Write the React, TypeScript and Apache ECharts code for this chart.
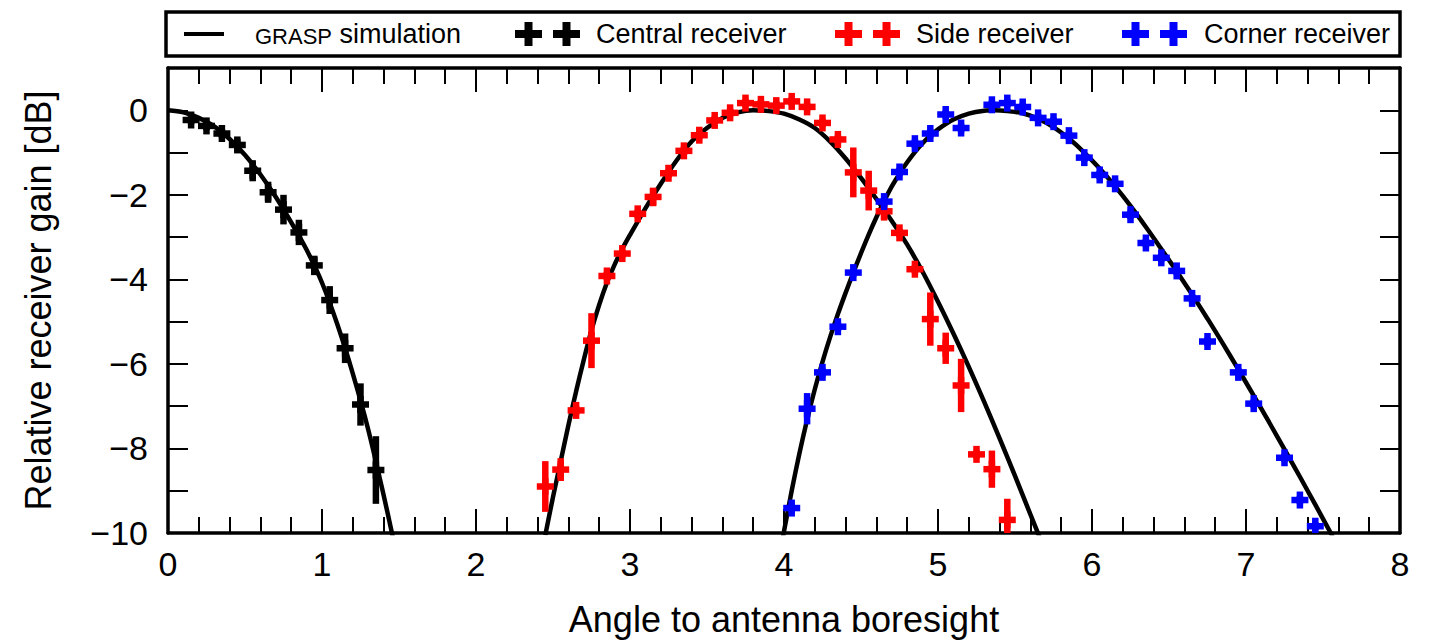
import React, { useEffect, useRef } from "react";
import * as echarts from "echarts";

// ---- GRASP simulation curves (angle, relative gain dB) ----
const graspCentral: number[][] = [
  [0, 0], [0.1, -0.05], [0.2, -0.18], [0.3, -0.38], [0.4, -0.68], [0.5, -1.06],
  [0.6, -1.52], [0.7, -2.05], [0.8, -2.65], [0.9, -3.3], [1.0, -4.08], [1.1, -5.07],
  [1.2, -6.23], [1.3, -7.55], [1.4, -9.1], [1.46, -10.1],
];
const graspSide: number[][] = [
  [2.45, -10.05], [2.5, -9.15], [2.55, -8.3], [2.6, -7.45], [2.65, -6.65], [2.7, -5.9],
  [2.75, -5.2], [2.8, -4.6], [2.85, -4.08], [2.9, -3.65], [2.95, -3.28], [3.0, -2.95],
  [3.1, -2.32], [3.2, -1.74], [3.3, -1.2], [3.4, -0.74], [3.5, -0.42], [3.6, -0.18],
  [3.7, -0.05], [3.8, 0], [3.9, -0.02], [4.0, -0.08], [4.1, -0.22], [4.2, -0.42],
  [4.3, -0.74], [4.4, -1.14], [4.5, -1.6], [4.6, -2.1], [4.7, -2.62], [4.8, -3.18],
  [4.9, -3.82], [5.0, -4.53], [5.1, -5.28], [5.2, -6.07], [5.3, -6.9], [5.4, -7.76],
  [5.5, -8.65], [5.6, -9.56], [5.66, -10.1],
];
const graspCorner: number[][] = [
  [3.99, -10.15], [4.0, -9.96], [4.05, -9.0], [4.1, -8.12], [4.15, -7.32], [4.2, -6.6],
  [4.25, -5.95], [4.3, -5.36], [4.35, -4.82], [4.4, -4.32], [4.45, -3.84], [4.5, -3.38],
  [4.55, -2.94], [4.6, -2.53], [4.65, -2.15], [4.7, -1.8], [4.75, -1.5], [4.8, -1.23],
  [4.85, -0.99], [4.9, -0.78], [4.95, -0.6], [5.0, -0.45], [5.1, -0.22], [5.2, -0.08],
  [5.3, -0.01], [5.37, 0], [5.45, -0.02], [5.55, -0.07], [5.65, -0.2], [5.75, -0.4],
  [5.85, -0.67], [5.95, -1.0], [6.05, -1.38], [6.15, -1.8], [6.25, -2.26], [6.35, -2.76],
  [6.45, -3.28], [6.55, -3.81], [6.65, -4.36], [6.75, -4.93], [6.85, -5.52], [6.95, -6.13],
  [7.05, -6.75], [7.15, -7.38], [7.25, -8.02], [7.35, -8.67], [7.45, -9.33], [7.55, -10.0],
  [7.57, -10.15],
];

// ---- Measured receivers: angle, gain, error ----
const centralX = [0.15, 0.25, 0.35, 0.45, 0.55, 0.65, 0.75, 0.85, 0.95, 1.05, 1.15, 1.25, 1.35];
const centralY = [-0.23, -0.37, -0.55, -0.82, -1.43, -1.94, -2.35, -2.89, -3.67, -4.49, -5.63, -6.96, -8.51];
const centralErr = [0.1, 0.1, 0.1, 0.15, 0.25, 0.25, 0.35, 0.3, 0.23, 0.33, 0.35, 0.5, 0.8];

const sideX = [2.45, 2.55, 2.65, 2.75, 2.85, 2.95, 3.05, 3.15, 3.25, 3.35, 3.45, 3.55, 3.65, 3.75, 3.85, 3.95,
  4.05, 4.15, 4.25, 4.35, 4.45, 4.55, 4.65, 4.75, 4.85, 4.95, 5.05, 5.15, 5.25, 5.35, 5.45];
const sideY = [-8.9, -8.5, -7.1, -5.45, -3.92, -3.39, -2.45, -2.05, -1.49, -0.96, -0.59, -0.24, -0.06, 0.17, 0.14, 0.11,
  0.21, 0.08, -0.3, -0.69, -1.47, -1.9, -2.39, -2.9, -3.76, -4.94, -5.63, -6.51, -8.14, -8.49, -9.69];
const sideErr = [0.6, 0.27, 0.1, 0.65, 0.1, 0.1, 0.1, 0.22, 0.1, 0.1, 0.1, 0.1, 0.1, 0.1, 0.1, 0.1,
  0.1, 0.1, 0.1, 0.1, 0.59, 0.47, 0.22, 0.1, 0.1, 0.63, 0.37, 0.63, 0.1, 0.44, 0.5];

const cornerX = [4.05, 4.15, 4.25, 4.35, 4.45, 4.65, 4.75, 4.85, 4.95, 5.05, 5.15, 5.35, 5.45, 5.55, 5.65, 5.75,
  5.85, 5.95, 6.05, 6.15, 6.25, 6.35, 6.45, 6.55, 6.65, 6.75, 6.95, 7.05, 7.25, 7.35, 7.45];
const cornerY = [-9.41, -7.06, -6.2, -5.12, -3.84, -2.16, -1.46, -0.79, -0.55, -0.1, -0.42, 0.13, 0.17, 0.08, -0.18, -0.27,
  -0.6, -1.12, -1.53, -1.74, -2.47, -3.14, -3.49, -3.8, -4.45, -5.47, -6.2, -6.94, -8.22, -9.22, -9.84];
const cornerErr = [0.12, 0.37, 0.1, 0.1, 0.1, 0.1, 0.1, 0.1, 0.1, 0.1, 0.1, 0.1, 0.1, 0.1, 0.1, 0.1,
  0.1, 0.1, 0.1, 0.1, 0.1, 0.1, 0.1, 0.1, 0.1, 0.1, 0.1, 0.1, 0.1, 0.1, 0.1];

const legendNames = ["GRASP simulation", "Central receiver", "Side receiver", "Corner receiver"];
const seriesColors = ["#000000", "#000000", "#ff0000", "#0000ff"];
const xAxisTitle = "Angle to antenna boresight";
const yAxisTitle = "Relative receiver gain [dB]";

const FONT = "'Liberation Sans', Arial, Helvetica, sans-serif";

function zip(xs: number[], ys: number[], es: number[]) {
  return xs.map((x, i) => [x, ys[i], es[i]]);
}

function renderErrCross(params: any, api: any) {
  const x = api.value(0);
  const y = api.value(1);
  const e = api.value(2);
  const c = api.coord([x, y]);
  const top = api.coord([x, y + e])[1];
  const bot = api.coord([x, y - e])[1];
  const color = api.visual("color");
  const arm = 8.5;
  const th = 3.25;
  return {
    type: "group",
    children: [
      { type: "rect", shape: { x: c[0] - th, y: top, width: 2 * th, height: bot - top }, style: { fill: color } },
      { type: "rect", shape: { x: c[0] - arm, y: c[1] - th, width: 2 * arm, height: 2 * th }, style: { fill: color } },
      { type: "rect", shape: { x: c[0] - th, y: c[1] - arm, width: 2 * th, height: 2 * arm }, style: { fill: color } },
    ],
  };
}

function plusPoints(cx: number, cy: number, w: number, h: number, t: number): number[][] {
  const hw = w / 2, hh = h / 2, ht = t / 2;
  return [
    [cx - hw, cy - ht], [cx - ht, cy - ht], [cx - ht, cy - hh], [cx + ht, cy - hh],
    [cx + ht, cy - ht], [cx + hw, cy - ht], [cx + hw, cy + ht], [cx + ht, cy + ht],
    [cx + ht, cy + hh], [cx - ht, cy + hh], [cx - ht, cy + ht], [cx - hw, cy + ht],
  ];
}

export default function App() {
  const ref = useRef<HTMLDivElement>(null);
  useEffect(() => {
    if (!ref.current) return;
    const chart = echarts.init(ref.current, null, { renderer: "svg" });

    const axisLine = { show: true, onZero: false, lineStyle: { color: "#000", width: 3.5 } };
    const xTick = { show: true, inside: true, length: 24, lineStyle: { color: "#000", width: 2 } };
    const xMinor = { show: true, splitNumber: 5, length: 16, lineStyle: { color: "#000", width: 2 } };
    const yTick = { show: true, inside: true, length: 20, lineStyle: { color: "#000", width: 2 } };

    const legendY = 34;
    const crossW = 27, crossH = 24, crossT = 8;
    const crossCenters = [[528.5, 566.5], [848.5, 886.5], [1135.5, 1173.5]];
    const textX = [255, 596, 916, 1204];

    const graphics: any[] = [
      { type: "rect", shape: { x: 166, y: 12, width: 1234, height: 44 }, style: { fill: "#fff", stroke: "#000", lineWidth: 3.5 }, z: 10 },
      { type: "line", shape: { x1: 184, y1: legendY, x2: 224, y2: legendY }, style: { stroke: seriesColors[0], lineWidth: 4 }, z: 11 },
      {
        type: "text", x: textX[0], y: legendY, z: 11,
        style: {
          text: "{a|GRASP}{b| simulation}",
          fill: "#000",
          verticalAlign: "middle",
          rich: {
            a: { fontSize: 22, fontFamily: FONT, fill: "#000", verticalAlign: "bottom", lineHeight: 27 },
            b: { fontSize: 27, fontFamily: FONT, fill: "#000", verticalAlign: "bottom", lineHeight: 27 },
          },
        },
      },
    ];
    for (let k = 0; k < 3; k++) {
      for (const cx of crossCenters[k]) {
        graphics.push({ type: "polygon", z: 11, shape: { points: plusPoints(cx, legendY, crossW, crossH, crossT) }, style: { fill: seriesColors[k + 1] } });
      }
      graphics.push({
        type: "text", x: textX[k + 1], y: legendY, z: 11,
        style: { text: legendNames[k + 1], fill: "#000", font: `27px ${FONT}`, verticalAlign: "middle" },
      });
    }

    const lineStyle = { color: "#000", width: 4.5 };
    const option: any = {
      animation: false,
      backgroundColor: "#fff",
      grid: { left: 168, right: 34, top: 68, bottom: 107, containLabel: false },
      xAxis: [
        {
          type: "value", min: 0, max: 8, interval: 1, position: "bottom",
          axisLine, axisTick: xTick, minorTick: xMinor,
          splitLine: { show: false }, minorSplitLine: { show: false },
          axisLabel: { fontSize: 34, color: "#000", margin: 14, fontFamily: FONT },
          name: xAxisTitle, nameLocation: "middle", nameGap: 68,
          nameTextStyle: { fontSize: 36, color: "#000", fontFamily: FONT },
        },
        {
          type: "value", min: 0, max: 8, interval: 1, position: "top",
          axisLine, axisTick: xTick, minorTick: xMinor,
          splitLine: { show: false }, minorSplitLine: { show: false },
          axisLabel: { show: false },
        },
      ],
      yAxis: [
        {
          type: "value", min: -10, max: 1, interval: 1, position: "left",
          axisLine, axisTick: yTick, splitLine: { show: false },
          axisLabel: {
            fontSize: 34, color: "#000", margin: 20, fontFamily: FONT,
            formatter: (v: number) => (v <= 0 && Math.round(v) % 2 === 0 ? String(v).replace("-", "\u2212") : ""),
          },
          name: yAxisTitle, nameLocation: "middle", nameGap: 112,
          nameTextStyle: { fontSize: 36, color: "#000", fontFamily: FONT },
        },
        {
          type: "value", min: -10, max: 1, interval: 1, position: "right",
          axisLine, axisTick: yTick, splitLine: { show: false },
          axisLabel: { show: false },
        },
      ],
      graphic: graphics,
      series: [
        { name: legendNames[0], type: "line", data: graspCentral, showSymbol: false, smooth: 0.3, clip: true, z: 2, lineStyle },
        { name: legendNames[0], type: "line", data: graspSide, showSymbol: false, smooth: 0.3, clip: true, z: 2, lineStyle },
        { name: legendNames[0], type: "line", data: graspCorner, showSymbol: false, smooth: 0.3, clip: true, z: 2, lineStyle },
        { name: legendNames[1], type: "custom", data: zip(centralX, centralY, centralErr), renderItem: renderErrCross, clip: true, z: 3, itemStyle: { color: seriesColors[1] }, encode: { x: 0, y: 1 } },
        { name: legendNames[2], type: "custom", data: zip(sideX, sideY, sideErr), renderItem: renderErrCross, clip: true, z: 3, itemStyle: { color: seriesColors[2] }, encode: { x: 0, y: 1 } },
        { name: legendNames[3], type: "custom", data: zip(cornerX, cornerY, cornerErr), renderItem: renderErrCross, clip: true, z: 3, itemStyle: { color: seriesColors[3] }, encode: { x: 0, y: 1 } },
      ],
    };
    chart.setOption(option);
    return () => chart.dispose();
  }, []);

  return <div ref={ref} style={{ position: "fixed", left: 0, top: 0, width: 1434, height: 642, background: "#fff" }} />;
}
